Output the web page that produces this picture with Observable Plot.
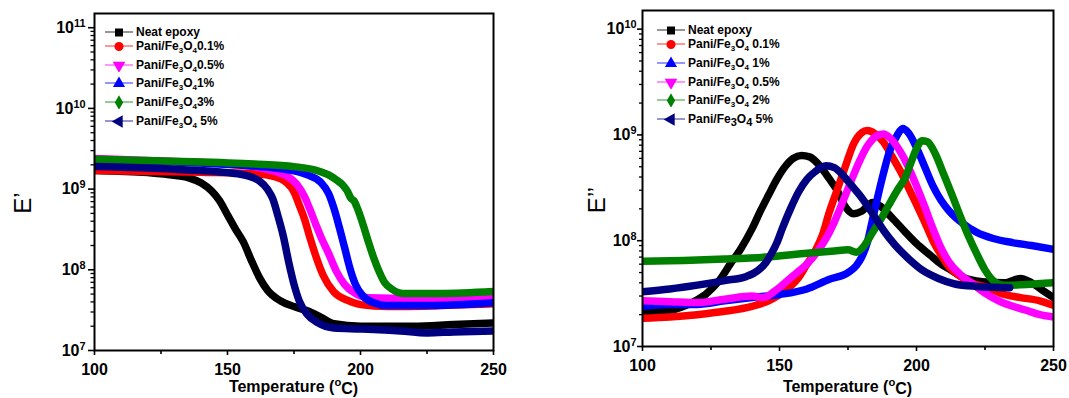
<!DOCTYPE html>
<html><head><meta charset="utf-8">
<script src="https://cdn.jsdelivr.net/npm/d3@7"></script>
<script src="https://cdn.jsdelivr.net/npm/@observablehq/plot@0.6"></script>
<style>
body{margin:0;background:#fff;}
#wrap{position:relative;width:1069px;height:398px;display:flex;font-family:"Liberation Sans",Arial,sans-serif;}
.panel{position:relative;}
.item{position:absolute;display:flex;align-items:center;height:14px;font-weight:bold;font-size:12px;color:#000;white-space:nowrap;}
.item svg{margin-right:3px;}
.item sub{font-size:8px;vertical-align:-3px;line-height:0;}
.item sub.big{font-size:11px;vertical-align:-3px;}
</style></head><body>
<div id="wrap"><div class="panel" id="left"></div><div class="panel" id="right"></div></div>
<script>
// ---------- data ----------
const leftSeries = ["Neat epoxy","Pani/Fe3O4 0.1%","Pani/Fe3O4 0.5%","Pani/Fe3O4 1%","Pani/Fe3O4 3%","Pani/Fe3O4 5%"];
const leftLabels = ["Neat epoxy","Pani/Fe_3O_40.1%","Pani/Fe_3O_40.5%","Pani/Fe_3O_41%","Pani/Fe_3O_43%","Pani/Fe_3O_4 5%"];
const leftColors = ["#000000","#ff0000","#ff00ff","#0000ff","#008000","#000080"];
const leftSymbols = ["square","circle","triangleDown","triangle","diamond","triangleLeft"];

const rightSeries = ["Neat epoxy","Pani/Fe3O4 0.1%","Pani/Fe3O4 1%","Pani/Fe3O4 0.5%","Pani/Fe3O4 2%","Pani/Fe3O4 5%"];
const rightLabels = ["Neat epoxy","Pani/Fe_3O_4 0.1%","Pani/Fe_3O_4 1%","Pani/Fe_3O_4 0.5%","Pani/Fe_3O_4 2%","Pani/Fe^3O^4 5%"];
const rightColors = ["#000000","#ff0000","#0000ff","#ff00ff","#008000","#000080"];
const rightSymbols = ["square","circle","triangle","triangleDown","diamond","triangleLeft"];

const xMajorTicks = [100,150,200,250];
const xMinorTicks = [125,175,225];
const leftYTicks = [1e7,1e8,1e9,1e10,1e11];
const rightYTicks = [1e7,1e8,1e9,1e10];

// Storage modulus E' [temperature °C, Pa]
const spNeat = [[100,1.7e9],[120,1.6e9],[130,1.48e9],[136,1.36e9],[140,1.2e9],[144,9.5e8],[147,7.2e8],[150,4.8e8],[153,3.2e8],[156,2.2e8],[159,1.3e8],[162,8e7],[165,5.6e7],[170,4.1e7],[175,3.5e7],[180,3.1e7],[185,2.6e7],[190,2.15e7],[200,2.0e7],[220,2.0e7],[235,2.1e7],[250,2.2e7]];
const sp01 = [[100,1.7e9],[140,1.62e9],[160,1.55e9],[168,1.42e9],[172,1.22e9],[175,9.2e8],[177,6.3e8],[179,4.2e8],[181,2.5e8],[183,1.55e8],[186,8.5e7],[190,5.3e7],[195,4.2e7],[200,3.7e7],[210,3.5e7],[230,3.6e7],[250,3.8e7]];
const sp05 = [[100,2.4e9],[130,2.2e9],[150,2.05e9],[160,1.9e9],[168,1.65e9],[172,1.47e9],[176,1.15e9],[179,8e8],[181,5.6e8],[183,3.8e8],[185,2.6e8],[188,1.6e8],[191,9.5e7],[194,6.6e7],[198,5.1e7],[203,4.5e7],[220,4.4e7],[250,4.6e7]];
const sp1 = [[100,2.3e9],[140,2.1e9],[170,1.78e9],[180,1.5e9],[185,1.22e9],[188,8.8e8],[190,5.8e8],[192,3.4e8],[194,1.9e8],[196,1.05e8],[198,6.7e7],[201,4.7e7],[205,3.9e7],[210,3.6e7],[225,3.6e7],[250,3.9e7]];
const sp3 = [[100,2.35e9],[130,2.22e9],[160,2.05e9],[175,1.9e9],[183,1.72e9],[188,1.5e9],[191,1.3e9],[193,1.15e9],[195,9.5e8],[196.5,7.6e8],[197.5,7.2e8],[199,5.6e8],[201,3.6e8],[203,2.2e8],[205,1.4e8],[207,9.5e7],[209,7e7],[212,5.7e7],[216,5.1e7],[230,5.1e7],[250,5.4e7]];
const sp5 = [[100,1.9e9],[130,1.76e9],[150,1.6e9],[158,1.45e9],[162,1.26e9],[165,1.0e9],[167,7.6e8],[169,4.6e8],[171,2.6e8],[173,1.25e8],[175,6.6e7],[177,4.1e7],[180,2.8e7],[184,2.2e7],[190,1.9e7],[200,1.85e7],[215,1.75e7],[225,1.65e7],[235,1.7e7],[250,1.75e7]];

// Loss modulus E'' [temperature °C, Pa]
const lsNeat = [[100,2.1e7],[110,2.2e7],[118,2.6e7],[123,3.1e7],[128,4.2e7],[132,6e7],[136,8.5e7],[140,1.3e8],[143,1.9e8],[146,2.7e8],[149,3.8e8],[152,5e8],[155,6e8],[158,6.4e8],[161,6.2e8],[165,5e8],[168,3.9e8],[171,3e8],[174,2.1e8],[177,1.8e8],[180,1.9e8],[184,2.3e8],[187,2.1e8],[191,1.65e8],[196,1.2e8],[200,9.4e7],[205,7.3e7],[209,6e7],[213,5.2e7],[217,4.5e7],[224,4.1e7],[232,4e7],[238,4.4e7],[242,4e7],[246,3.4e7],[250,2.9e7]];
const ls01 = [[100,1.85e7],[110,1.9e7],[120,2.0e7],[130,2.15e7],[140,2.4e7],[146,2.7e7],[150,3.1e7],[154,3.7e7],[157,4.5e7],[160,6e7],[163,8e7],[166,1.2e8],[168,1.8e8],[171,3e8],[174,5e8],[177,8.2e8],[180,1.05e9],[182,1.1e9],[185,1.02e9],[188,8.5e8],[191,6.3e8],[194,4.6e8],[197,3.2e8],[200,2.2e8],[203,1.5e8],[206,1e8],[209,7.3e7],[212,5.6e7],[216,4.6e7],[220,4e7],[226,3.6e7],[232,3.1e7],[238,2.9e7],[245,2.7e7],[250,2.45e7]];
const ls1 = [[100,2.4e7],[110,2.5e7],[120,2.5e7],[130,2.7e7],[140,2.9e7],[150,3.1e7],[160,3.5e7],[168,4.3e7],[175,5e7],[178,5.8e7],[180,7e7],[182,9.5e7],[184,1.6e8],[186,2.7e8],[188,4.4e8],[190,6.8e8],[193,1.0e9],[195,1.15e9],[197,1.05e9],[200,7.6e8],[203,5e8],[206,3.3e8],[209,2.4e8],[212,1.9e8],[217,1.45e8],[222,1.2e8],[228,1.05e8],[235,9.6e7],[242,9e7],[250,8.3e7]];
const ls05 = [[100,2.7e7],[110,2.65e7],[120,2.6e7],[130,2.8e7],[140,3.0e7],[144,2.9e7],[148,3.3e7],[152,4e7],[156,4.9e7],[160,6e7],[164,8e7],[167,1.05e8],[170,1.5e8],[173,2.3e8],[176,3.6e8],[179,5.5e8],[182,7.8e8],[185,9.6e8],[188,1.02e9],[191,9e8],[194,7e8],[197,5e8],[200,3.3e8],[203,2.1e8],[206,1.3e8],[209,8.5e7],[212,6.2e7],[216,4.8e7],[220,4e7],[225,3.2e7],[230,2.7e7],[240,2.2e7],[245,2.0e7],[250,1.9e7]];
const ls2 = [[100,6.4e7],[115,6.5e7],[130,6.7e7],[145,7e7],[160,7.6e7],[170,8e7],[175,8.2e7],[178,7.8e7],[181,9e7],[184,1.2e8],[187,1.6e8],[190,2.2e8],[193,3e8],[196,4e8],[198,5.5e8],[200,7.4e8],[202,8.8e8],[204,8.6e8],[207,6.5e8],[210,4.2e8],[213,2.7e8],[216,1.7e8],[219,1.1e8],[222,7.5e7],[225,5.3e7],[228,4.2e7],[232,3.8e7],[240,3.85e7],[250,4e7]];
const ls5 = [[100,3.3e7],[110,3.5e7],[120,3.8e7],[130,4.2e7],[138,4.6e7],[142,5.2e7],[145,6.2e7],[147,7.5e7],[149,9.5e7],[151,1.3e8],[154,2e8],[157,2.9e8],[160,3.8e8],[163,4.5e8],[167,5.1e8],[170,4.9e8],[173,4.2e8],[176,3.4e8],[180,2.55e8],[184,1.8e8],[188,1.25e8],[192,9.2e7],[197,6.8e7],[202,5.3e7],[208,4.4e7],[214,3.9e7],[222,3.7e7],[234,3.6e7]];

const leftData = [spNeat, sp01, sp05, sp1, sp3, sp5];
const rightData = [lsNeat, ls01, ls1, ls05, ls2, ls5];

// ---------- helpers ----------
function rows(names, sets){
  const out = [];
  sets.forEach((s,i)=>s.forEach(([t,v])=>out.push({T:t, v:v, series:names[i]})));
  return out;
}
function minorLog(lo, hi){
  const m = [];
  for (let e = lo; e < hi; e++) for (let k = 2; k <= 9; k++) m.push(k * Math.pow(10, e));
  return m;
}
const FONT = "'Liberation Sans', Arial, sans-serif";
function superscriptify(svg){
  svg.querySelectorAll("text").forEach(t=>{
    const s = t.textContent;
    if (s.includes("|")){
      const [b,e] = s.split("|");
      t.textContent = "";
      const ns = "http://www.w3.org/2000/svg";
      const a = document.createElementNS(ns,"tspan"); a.textContent = b; t.appendChild(a);
      const p = document.createElementNS(ns,"tspan"); p.textContent = e;
      p.setAttribute("dy","-0.55em"); p.setAttribute("font-size","0.68em"); t.appendChild(p);
    }
  });
}

function makePanel(opts){
  const data = rows(opts.series, opts.sets);
  const plot = Plot.plot({
    width: opts.width, height: 398,
    marginLeft: opts.ml, marginRight: opts.mr, marginTop: opts.mt, marginBottom: opts.mb,
    style: {fontFamily: FONT, fontSize: "16px", fontWeight: "bold", background: "#fff", color: "#000", overflow: "visible"},
    x: {domain: [100, 250], label: null},
    y: {type: "log", domain: opts.ydomain, label: null},
    color: {domain: opts.series, range: opts.colors},
    marks: [
      Plot.line(data, {x: "T", y: "v", z: "series", stroke: "series", strokeWidth: 7.5, curve: "monotone-x", strokeLinejoin: "round", strokeLinecap: "round", clip: true}),
      Plot.axisY(minorLog(7, opts.ytop), {tickSize: opts.minorSize, tickFormat: () => "", strokeWidth: 1.3, label: null}),
      Plot.axisY(opts.yticks, {tickSize: opts.majorSize, tickPadding: opts.ypad, strokeWidth: 1.6, tickFormat: d => "10|" + Math.round(Math.log10(d)), fontSize: 16, fontWeight: "bold", label: null}),
      Plot.axisX(xMinorTicks, {tickSize: 4, tickFormat: () => "", strokeWidth: 1.6, label: null}),
      Plot.axisX(xMajorTicks, {tickSize: 5, tickPadding: 8, strokeWidth: 1.6, fontSize: 16, fontWeight: "bold", label: null}),
      Plot.frame({stroke: "#000", strokeWidth: 2})
    ]
  });
  superscriptify(plot);
  const svg = d3.select(plot);
  // x label
  const xl = svg.append("text").attr("x", opts.ml + (opts.width - opts.ml - opts.mr)/2).attr("y", 392)
    .attr("text-anchor","middle").attr("font-size",16).attr("font-weight","bold").attr("font-family",FONT);
  xl.append("tspan").text("Temperature (");
  xl.append("tspan").text("o").attr("dy","-0.5em").attr("font-size","0.7em");
  xl.append("tspan").text("C)").attr("dy","0.5em");
  // y label
  svg.append("text").attr("transform",`translate(${opts.ylx},${opts.yly}) rotate(-90)`)
    .attr("text-anchor","middle").attr("font-size",24).attr("font-weight","normal").attr("font-family",FONT)
    .text(opts.ylabel);
  return plot;
}

function symbolPath(name){
  const map = {square: d3.symbolSquare, circle: d3.symbolCircle, triangle: d3.symbolTriangle, diamond: d3.symbolDiamond};
  if (name === "triangleDown") return {d: d3.symbol(d3.symbolTriangle, 70)(), rot: 180};
  if (name === "triangleLeft") return {d: d3.symbol(d3.symbolTriangle, 70)(), rot: -90};
  const size = name === "diamond" ? 60 : 64;
  return {d: d3.symbol(map[name], size)(), rot: 0};
}
function labelHTML(s){
  return s.replace(/_(\d)/g, "<sub>$1</sub>").replace(/\^(\d)/g, '<sub class="big">$1</sub>');
}
function addLegend(container, labels, colors, symbols, left, centers){
  labels.forEach((lab,i)=>{
    const div = document.createElement("div");
    div.className = "item";
    div.style.left = left + "px";
    div.style.top = (centers[i] - 7) + "px";
    const sp = symbolPath(symbols[i]);
    div.innerHTML = `<svg width="28" height="14" viewBox="0 0 28 14"><line x1="0" y1="7" x2="28" y2="7" stroke="${colors[i]}" stroke-opacity="0.55" stroke-width="1.5"/><path d="${sp.d}" transform="translate(14,7.5) rotate(${sp.rot})" fill="${colors[i]}"/></svg><span>${labelHTML(lab)}</span>`;
    container.appendChild(div);
  });
}

// ---------- build ----------
const leftEl = document.getElementById("left");
const rightEl = document.getElementById("right");
leftEl.appendChild(makePanel({
  series: leftSeries, sets: leftData, colors: leftColors,
  width: 540, ml: 94, mr: 47, mt: 13, mb: 48,
  ydomain: [1e7, 1.5e11], ytop: 11, yticks: leftYTicks,
  majorSize: 6, minorSize: 3.5, ypad: 3,
  ylabel: "E\u2019", ylx: 30.5, yly: 203
}));
rightEl.appendChild(makePanel({
  series: rightSeries, sets: rightData, colors: rightColors,
  width: 529, ml: 102, mr: 16, mt: 10, mb: 52,
  ydomain: [1e7, 1.5e10], ytop: 10, yticks: rightYTicks,
  majorSize: 5, minorSize: 3, ypad: 1,
  ylabel: "E\u2019\u2019", ylx: 65, yly: 200
}));
addLegend(leftEl, leftLabels, leftColors, leftSymbols, 105, [32,46,65,83,102,121]);
addLegend(rightEl, rightLabels, rightColors, rightSymbols, 117, [30,44,63,82,100,119]);
</script>
</body></html>
